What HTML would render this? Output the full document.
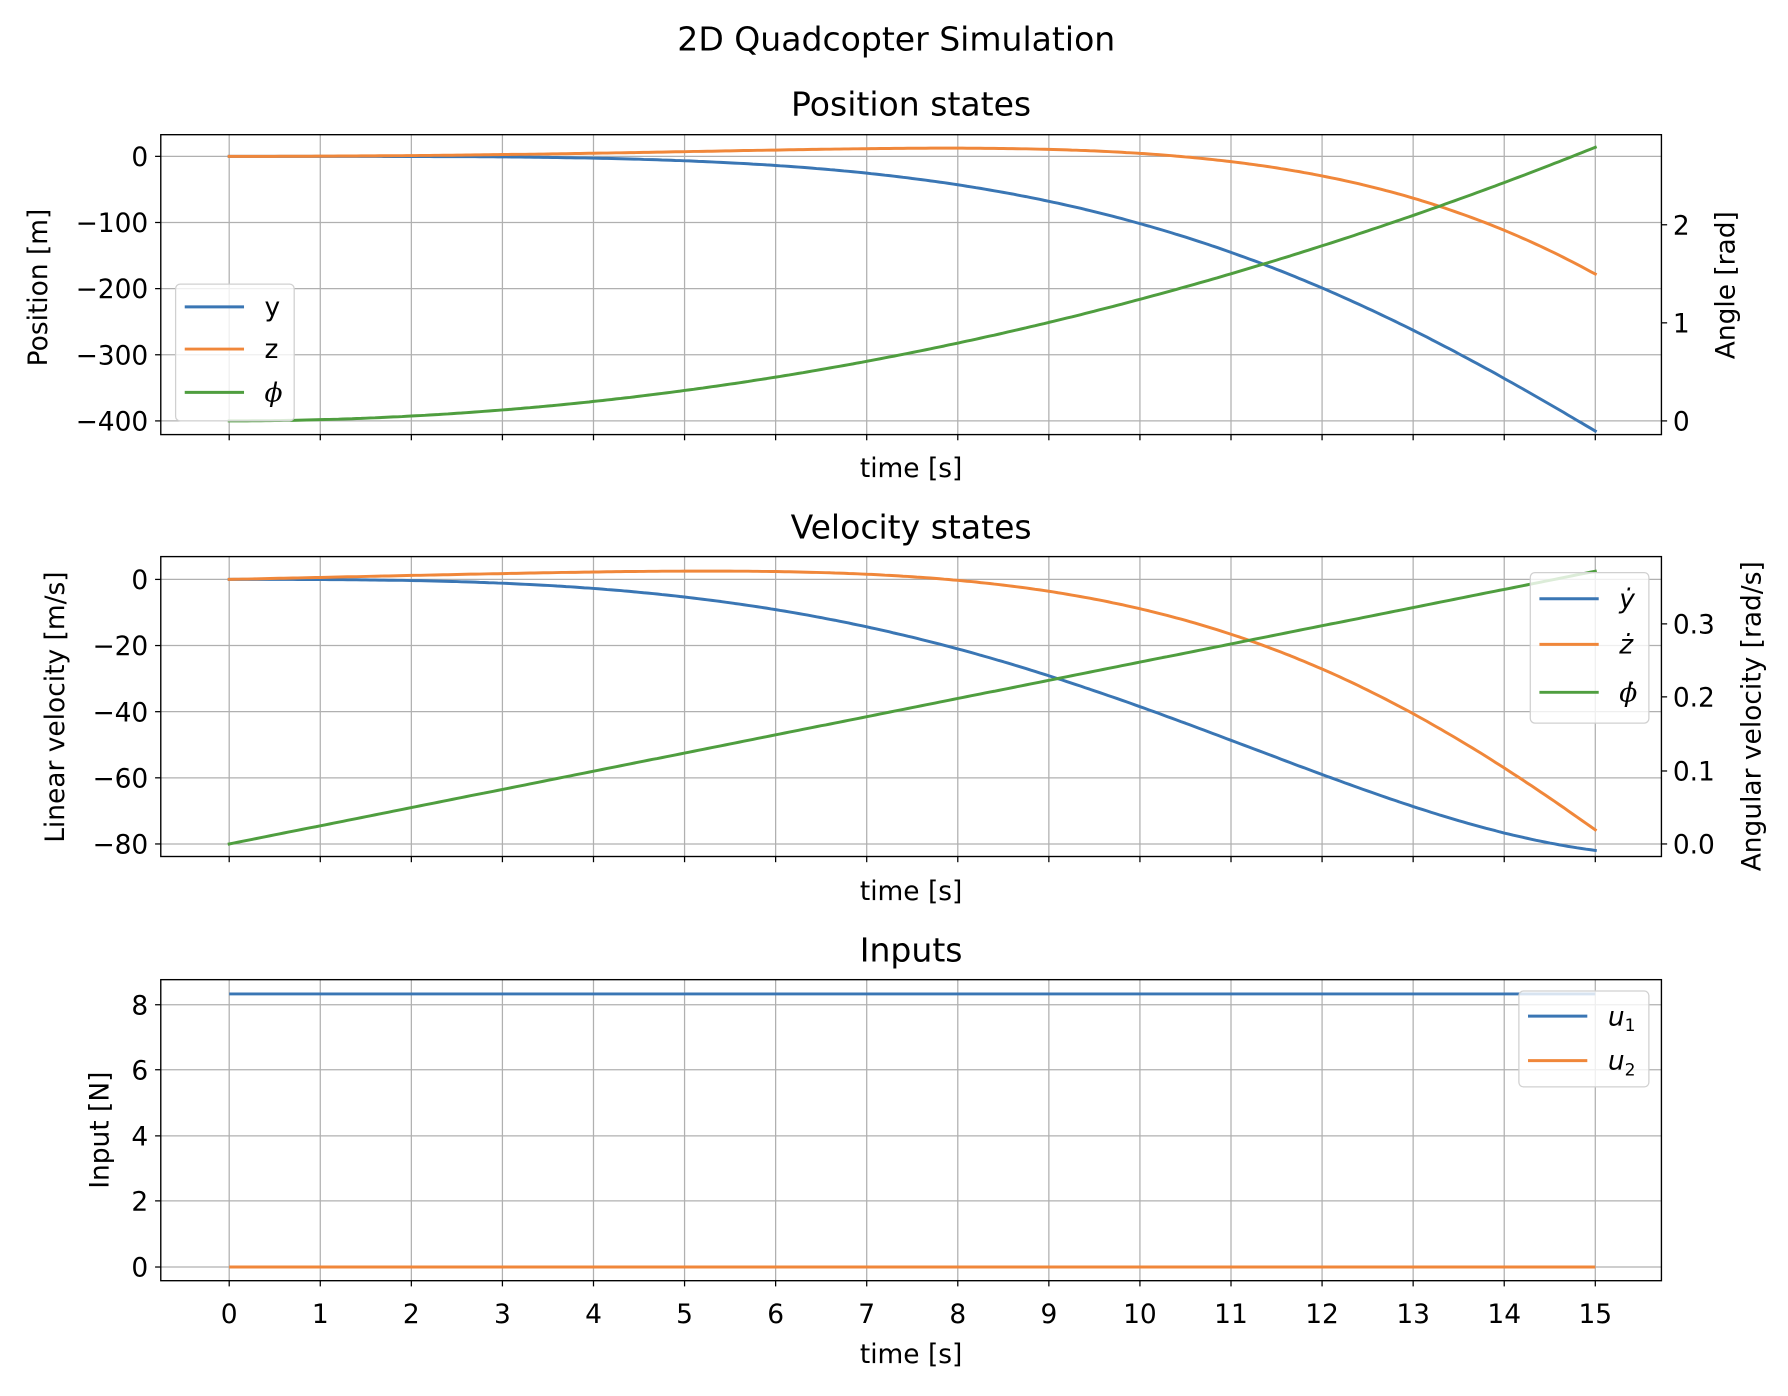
<!DOCTYPE html>
<html><head><meta charset="utf-8"><style>
html,body{margin:0;padding:0;background:#fff}
svg{display:block}
text{font-family:"DejaVu Sans","Liberation Sans",sans-serif;fill:#000}
</style></head><body>
<svg id="s" width="1788" height="1396" viewBox="0 0 1568 1224" xmlns="http://www.w3.org/2000/svg"></svg>
<script>
const S=document.getElementById('s');let h='';
const X=t=>201+t*79.867;
const C1='#3a76b4',C2='#f0873a',C3='#4f9e3f';
const FS=23.2,FT=29;
function ln(x1,y1,x2,y2,c,w){h+=`<line x1="${x1}" y1="${y1}" x2="${x2}" y2="${y2}" stroke="${c}" stroke-width="${w}"/>`;}
function tx(x,y,s,sz,anc,extra){h+=`<text x="${x}" y="${y}" font-size="${sz}" text-anchor="${anc||'middle'}" ${extra||''}>${s}</text>`;}
const N=1500,dt=15/N,a=10.41,g=9.81;let ph=[],pd=[],yy=[],yd=[],zz=[],zd=[];
let p=0,w=0,y=0,vy=0,z=0,vz=0;
for(let i=0;i<=N;i++){ph.push(p);pd.push(w);yy.push(y);yd.push(vy);zz.push(z);zd.push(vz);
 const ay=-a*Math.sin(p),az=a*Math.cos(p)-g;
 y+=vy*dt+0.5*ay*dt*dt;z+=vz*dt+0.5*az*dt*dt;vy+=ay*dt;vz+=az*dt;p+=w*dt+0.5*0.0248*dt*dt;w+=0.0248*dt;}
function path(arr,f,c){let d='';for(let i=0;i<=N;i+=5){d+=(i?'L':'M')+X(i*dt).toFixed(1)+','+f(arr[i]).toFixed(1);}
 h+=`<path d="${d}" fill="none" stroke="${c}" stroke-width="2.6" stroke-linejoin="round" stroke-linecap="square"/>`;}
function axes(top,bot,lt,rt){
 for(let t=0;t<=15;t++)ln(X(t),top,X(t),bot,'#b0b0b0',1.1);
 lt.forEach(([v,yv])=>{ln(141,yv,1457,yv,'#b0b0b0',1.1);ln(136,yv,141,yv,'#000',1.1);tx(130,yv+8.4,v,FS,'end');});
 rt.forEach(([v,yv])=>{ln(1457,yv,1462,yv,'#000',1.1);tx(1467,yv+8.4,v,FS,'start');});
 for(let t=0;t<=15;t++)ln(X(t),bot,X(t),bot+5,'#000',1.1);
}
function frame(top,bot){h+=`<rect x="141" y="${top}" width="1316" height="${bot-top}" fill="none" stroke="#000" stroke-width="1.2"/>`;}
function legend(x,y0,wd,ht,items){h+=`<rect x="${x}" y="${y0}" width="${wd}" height="${ht}" rx="4" fill="#fff" fill-opacity="0.8" stroke="#d0d0d0" stroke-width="1.1"/>`;
 items.forEach(([c,lab,yy])=>{ln(x+8,yy,x+60,yy,c,2.6);h+=`<text x="${x+78}" y="${yy+8}" font-size="${FS}">${lab}</text>`;});}
tx(786,44,'2D Quadcopter Simulation',FT);
const y1=v=>137-v*0.58, r1=v=>369-v*86;
axes(118,381,[['0',137],['−100',195],['−200',253],['−300',311],['−400',369]],[['0',369],['1',283],['2',197]]);
path(yy,y1,C1);path(zz,y1,C2);path(ph,r1,C3);frame(118,381);
legend(154,249,104,120,[[C1,'y',269],[C2,'z',306],[C3,'<tspan font-style="italic" font-family="DejaVu Serif">ϕ</tspan>',344]]);
tx(799,101,'Position states',FT);tx(799,418,'time [s]',FS);
tx(0,0,'Position [m]',FS,'middle','transform="translate(41,252) rotate(-90)"');
tx(0,0,'Angle [rad]',FS,'middle','transform="translate(1521,250) rotate(-90)"');
const y2=v=>508-v*2.9, r2=v=>740-v*643;
axes(488,751,[['0',508],['−20',566],['−40',624],['−60',682],['−80',740]],[['0.0',740],['0.1',676],['0.2',611],['0.3',547]]);
path(yd,y2,C1);path(zd,y2,C2);path(pd,r2,C3);frame(488,751);
legend(1342,502,104,132,[[C1,'<tspan font-style="italic">ẏ</tspan>',525],[C2,'<tspan font-style="italic">ż</tspan>',565],[C3,'<tspan font-style="italic" font-family="DejaVu Serif">ϕ̇</tspan>',607]]);
tx(799,472,'Velocity states',FT);tx(799,789,'time [s]',FS);
tx(0,0,'Linear velocity [m/s]',FS,'middle','transform="translate(56,620) rotate(-90)"');
tx(0,0,'Angular velocity [rad/s]',FS,'middle','transform="translate(1544,628) rotate(-90)"');
const y3=v=>1111-v*28.75;
axes(859,1123,[['0',1111],['2',1053],['4',996],['6',938],['8',881]],[]);
ln(X(0),y3(8.33),X(15),y3(8.33),C1,2.6);ln(X(0),1111,X(15),1111,C2,2.6);frame(859,1123);
legend(1332,869,114,84,[[C1,'<tspan font-style="italic">u</tspan><tspan font-size="15" dy="5">1</tspan>',891],[C2,'<tspan font-style="italic">u</tspan><tspan font-size="15" dy="5">2</tspan>',930]]);
for(let t=0;t<=15;t++)tx(X(t),1160,String(t),FS);
tx(799,843,'Inputs',FT);tx(799,1195,'time [s]',FS);
tx(0,0,'Input [N]',FS,'middle','transform="translate(95,991) rotate(-90)"');
S.innerHTML=h;
</script>
</body></html>
